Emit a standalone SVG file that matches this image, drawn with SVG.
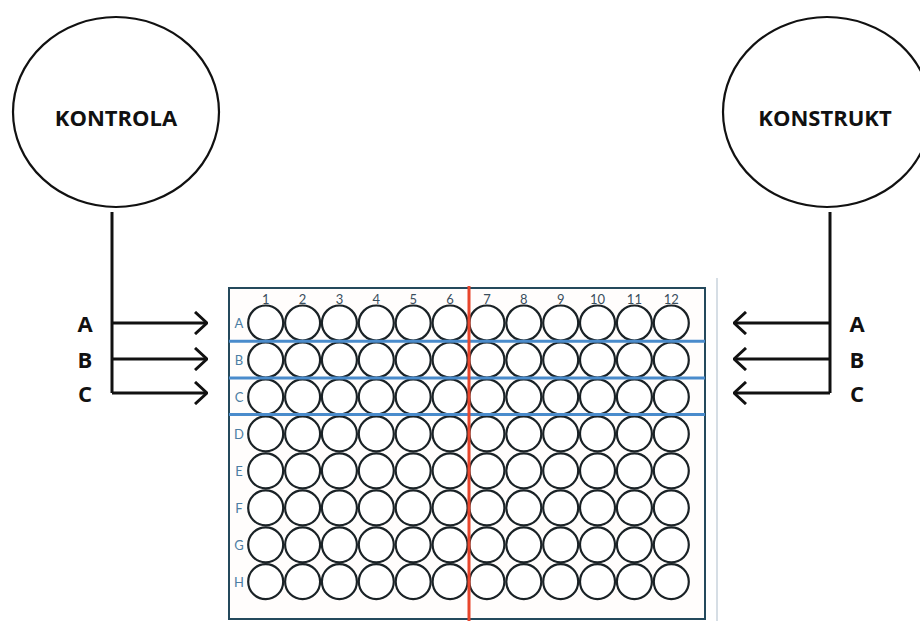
<svg xmlns="http://www.w3.org/2000/svg" width="920" height="621" viewBox="0 0 920 621">
  <defs>
    <style>
      .node-shape { fill: #ffffff; stroke: #111111; stroke-width: 2.2; }
      .node-label { font-family: "Open Sans", "Liberation Sans", sans-serif; font-weight: bold; font-size: 22px; fill: #111111; text-anchor: middle; dominant-baseline: central; }
      .conn { fill: none; stroke: #111111; stroke-width: 3; }
      .well { fill: #ffffff; stroke: #1a2226; stroke-width: 2.2; }
      .col-label { font-family: "Lato", "Liberation Sans", sans-serif; font-size: 13px; fill: #3a4e5c; text-anchor: middle; dominant-baseline: central; }
      .row-label { font-family: "Lato", "Liberation Sans", sans-serif; font-size: 13px; fill: #4c7da3; text-anchor: middle; dominant-baseline: central; }
      .blue { stroke: #4a8bcb; stroke-width: 3; }
    </style>
    <marker id="chev" viewBox="0 0 14 24" refX="13" refY="12" markerWidth="14" markerHeight="24" markerUnits="userSpaceOnUse" orient="auto">
      <path d="M1,1 L13,12 L1,23" fill="none" stroke="#111111" stroke-width="3"/>
    </marker>
  </defs>
  <rect width="920" height="621" fill="#ffffff"/>

  <g id="kontrola">
    <ellipse class="node-shape" cx="116" cy="112" rx="103" ry="95"/>
    <text class="node-label" x="116" y="117">KONTROLA</text>
  </g>

  <g id="konstrukt">
    <ellipse class="node-shape" cx="827" cy="112" rx="104" ry="95"/>
    <text class="node-label" x="825" y="117">KONSTRUKT</text>
  </g>

  <g id="plate">
    <line x1="717" y1="278" x2="717" y2="621" stroke="#c8d3dc" stroke-width="1.5"/>
    <rect x="229" y="288" width="476" height="331" fill="#fffdfc" stroke="#24495c" stroke-width="2"/>
    <g class="col-labels">
      <text class="col-label" x="265.7" y="299">1</text>
      <text class="col-label" x="302.6" y="299">2</text>
      <text class="col-label" x="339.4" y="299">3</text>
      <text class="col-label" x="376.3" y="299">4</text>
      <text class="col-label" x="413.2" y="299">5</text>
      <text class="col-label" x="450.1" y="299">6</text>
      <text class="col-label" x="486.9" y="299">7</text>
      <text class="col-label" x="523.8" y="299">8</text>
      <text class="col-label" x="560.7" y="299">9</text>
      <text class="col-label" x="597.5" y="299">10</text>
      <text class="col-label" x="634.4" y="299">11</text>
      <text class="col-label" x="671.3" y="299">12</text>
    </g>
    <g class="row-labels">
      <text class="row-label" x="239" y="323">A</text>
      <text class="row-label" x="239" y="360">B</text>
      <text class="row-label" x="239" y="397">C</text>
      <text class="row-label" x="239" y="434">D</text>
      <text class="row-label" x="239" y="471">E</text>
      <text class="row-label" x="239" y="508">F</text>
      <text class="row-label" x="239" y="545">G</text>
      <text class="row-label" x="239" y="582">H</text>
    </g>
    <g id="wells">
      <g transform="translate(0,323)">
        <circle class="well" cx="265.7" cy="0" r="17.5"/><circle class="well" cx="302.6" cy="0" r="17.5"/><circle class="well" cx="339.4" cy="0" r="17.5"/><circle class="well" cx="376.3" cy="0" r="17.5"/><circle class="well" cx="413.2" cy="0" r="17.5"/><circle class="well" cx="450.1" cy="0" r="17.5"/><circle class="well" cx="486.9" cy="0" r="17.5"/><circle class="well" cx="523.8" cy="0" r="17.5"/><circle class="well" cx="560.7" cy="0" r="17.5"/><circle class="well" cx="597.5" cy="0" r="17.5"/><circle class="well" cx="634.4" cy="0" r="17.5"/><circle class="well" cx="671.3" cy="0" r="17.5"/>
      </g>
      <g transform="translate(0,360)">
        <circle class="well" cx="265.7" cy="0" r="17.5"/><circle class="well" cx="302.6" cy="0" r="17.5"/><circle class="well" cx="339.4" cy="0" r="17.5"/><circle class="well" cx="376.3" cy="0" r="17.5"/><circle class="well" cx="413.2" cy="0" r="17.5"/><circle class="well" cx="450.1" cy="0" r="17.5"/><circle class="well" cx="486.9" cy="0" r="17.5"/><circle class="well" cx="523.8" cy="0" r="17.5"/><circle class="well" cx="560.7" cy="0" r="17.5"/><circle class="well" cx="597.5" cy="0" r="17.5"/><circle class="well" cx="634.4" cy="0" r="17.5"/><circle class="well" cx="671.3" cy="0" r="17.5"/>
      </g>
      <g transform="translate(0,396.9)">
        <circle class="well" cx="265.7" cy="0" r="17.5"/><circle class="well" cx="302.6" cy="0" r="17.5"/><circle class="well" cx="339.4" cy="0" r="17.5"/><circle class="well" cx="376.3" cy="0" r="17.5"/><circle class="well" cx="413.2" cy="0" r="17.5"/><circle class="well" cx="450.1" cy="0" r="17.5"/><circle class="well" cx="486.9" cy="0" r="17.5"/><circle class="well" cx="523.8" cy="0" r="17.5"/><circle class="well" cx="560.7" cy="0" r="17.5"/><circle class="well" cx="597.5" cy="0" r="17.5"/><circle class="well" cx="634.4" cy="0" r="17.5"/><circle class="well" cx="671.3" cy="0" r="17.5"/>
      </g>
      <g transform="translate(0,433.9)">
        <circle class="well" cx="265.7" cy="0" r="17.5"/><circle class="well" cx="302.6" cy="0" r="17.5"/><circle class="well" cx="339.4" cy="0" r="17.5"/><circle class="well" cx="376.3" cy="0" r="17.5"/><circle class="well" cx="413.2" cy="0" r="17.5"/><circle class="well" cx="450.1" cy="0" r="17.5"/><circle class="well" cx="486.9" cy="0" r="17.5"/><circle class="well" cx="523.8" cy="0" r="17.5"/><circle class="well" cx="560.7" cy="0" r="17.5"/><circle class="well" cx="597.5" cy="0" r="17.5"/><circle class="well" cx="634.4" cy="0" r="17.5"/><circle class="well" cx="671.3" cy="0" r="17.5"/>
      </g>
      <g transform="translate(0,470.8)">
        <circle class="well" cx="265.7" cy="0" r="17.5"/><circle class="well" cx="302.6" cy="0" r="17.5"/><circle class="well" cx="339.4" cy="0" r="17.5"/><circle class="well" cx="376.3" cy="0" r="17.5"/><circle class="well" cx="413.2" cy="0" r="17.5"/><circle class="well" cx="450.1" cy="0" r="17.5"/><circle class="well" cx="486.9" cy="0" r="17.5"/><circle class="well" cx="523.8" cy="0" r="17.5"/><circle class="well" cx="560.7" cy="0" r="17.5"/><circle class="well" cx="597.5" cy="0" r="17.5"/><circle class="well" cx="634.4" cy="0" r="17.5"/><circle class="well" cx="671.3" cy="0" r="17.5"/>
      </g>
      <g transform="translate(0,507.8)">
        <circle class="well" cx="265.7" cy="0" r="17.5"/><circle class="well" cx="302.6" cy="0" r="17.5"/><circle class="well" cx="339.4" cy="0" r="17.5"/><circle class="well" cx="376.3" cy="0" r="17.5"/><circle class="well" cx="413.2" cy="0" r="17.5"/><circle class="well" cx="450.1" cy="0" r="17.5"/><circle class="well" cx="486.9" cy="0" r="17.5"/><circle class="well" cx="523.8" cy="0" r="17.5"/><circle class="well" cx="560.7" cy="0" r="17.5"/><circle class="well" cx="597.5" cy="0" r="17.5"/><circle class="well" cx="634.4" cy="0" r="17.5"/><circle class="well" cx="671.3" cy="0" r="17.5"/>
      </g>
      <g transform="translate(0,544.8)">
        <circle class="well" cx="265.7" cy="0" r="17.5"/><circle class="well" cx="302.6" cy="0" r="17.5"/><circle class="well" cx="339.4" cy="0" r="17.5"/><circle class="well" cx="376.3" cy="0" r="17.5"/><circle class="well" cx="413.2" cy="0" r="17.5"/><circle class="well" cx="450.1" cy="0" r="17.5"/><circle class="well" cx="486.9" cy="0" r="17.5"/><circle class="well" cx="523.8" cy="0" r="17.5"/><circle class="well" cx="560.7" cy="0" r="17.5"/><circle class="well" cx="597.5" cy="0" r="17.5"/><circle class="well" cx="634.4" cy="0" r="17.5"/><circle class="well" cx="671.3" cy="0" r="17.5"/>
      </g>
      <g transform="translate(0,581.7)">
        <circle class="well" cx="265.7" cy="0" r="17.5"/><circle class="well" cx="302.6" cy="0" r="17.5"/><circle class="well" cx="339.4" cy="0" r="17.5"/><circle class="well" cx="376.3" cy="0" r="17.5"/><circle class="well" cx="413.2" cy="0" r="17.5"/><circle class="well" cx="450.1" cy="0" r="17.5"/><circle class="well" cx="486.9" cy="0" r="17.5"/><circle class="well" cx="523.8" cy="0" r="17.5"/><circle class="well" cx="560.7" cy="0" r="17.5"/><circle class="well" cx="597.5" cy="0" r="17.5"/><circle class="well" cx="634.4" cy="0" r="17.5"/><circle class="well" cx="671.3" cy="0" r="17.5"/>
      </g>
    </g>
    <line class="blue" x1="229" y1="341.3" x2="705" y2="341.3"/>
    <line class="blue" x1="229" y1="378" x2="705" y2="378"/>
    <line class="blue" x1="229" y1="414.5" x2="705" y2="414.5"/>
    <line x1="469" y1="286" x2="469" y2="621" stroke="#e8452b" stroke-width="3"/>
  </g>

  <g id="connectors">
    <path class="conn" d="M112,212 V393"/>
    <path class="conn" d="M112,323 H207" marker-end="url(#chev)"/>
    <path class="conn" d="M112,359 H207" marker-end="url(#chev)"/>
    <path class="conn" d="M112,393 H207" marker-end="url(#chev)"/>
    <path class="conn" d="M830,212 V393"/>
    <path class="conn" d="M830,323 H734" marker-end="url(#chev)"/>
    <path class="conn" d="M830,359 H734" marker-end="url(#chev)"/>
    <path class="conn" d="M830,393 H734" marker-end="url(#chev)"/>
  </g>

  <g id="labels">
    <text class="node-label" x="85" y="323">A</text>
    <text class="node-label" x="85" y="359">B</text>
    <text class="node-label" x="85" y="393">C</text>
    <text class="node-label" x="857" y="323">A</text>
    <text class="node-label" x="857" y="359">B</text>
    <text class="node-label" x="857" y="393">C</text>
  </g>
</svg>
